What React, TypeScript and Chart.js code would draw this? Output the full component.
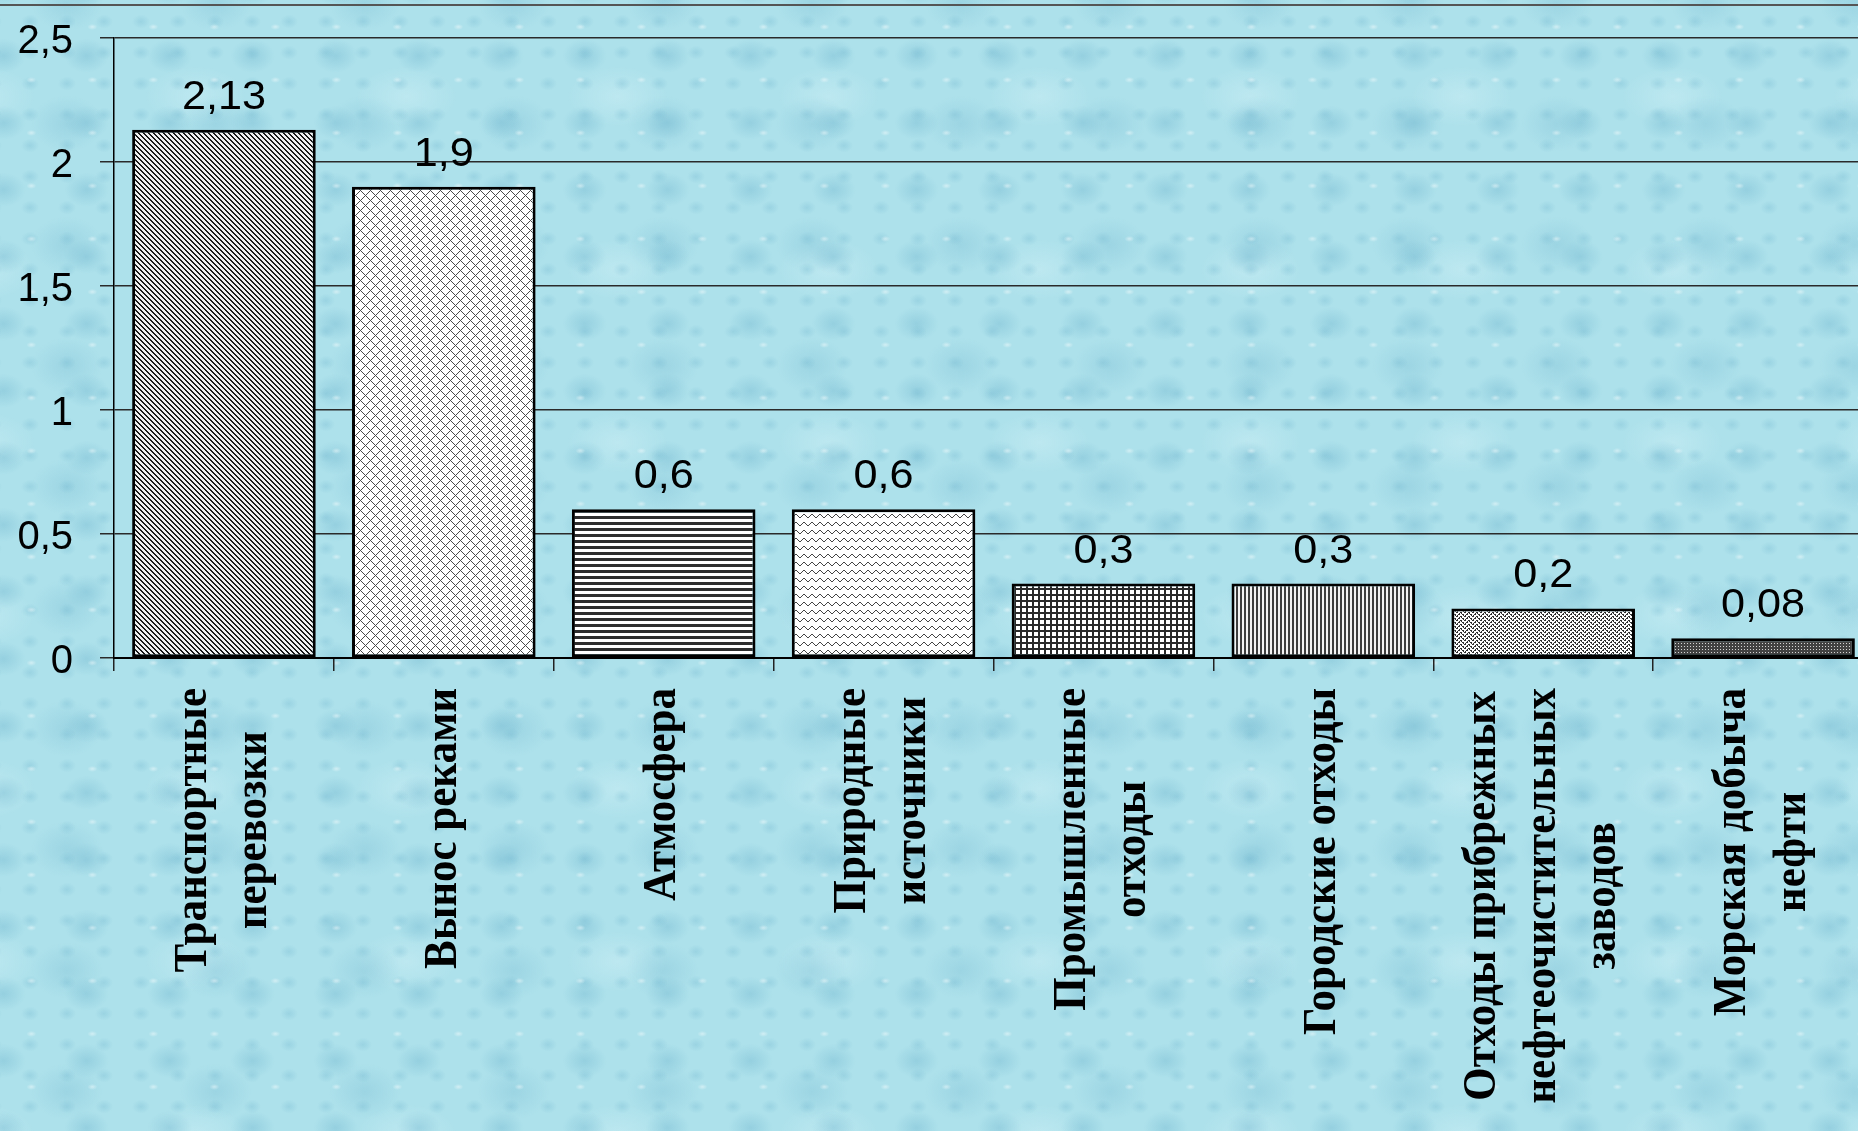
import React, { useEffect, useRef } from 'react';
import { Chart, registerables } from 'chart.js';

Chart.register(...registerables);

// ---- data ----
const categories: string[][] = [
  ['Транспортные', 'перевозки'],
  ['Вынос реками'],
  ['Атмосфера'],
  ['Природные', 'источники'],
  ['Промышленные', 'отходы'],
  ['Городские отходы'],
  ['Отходы прибрежных', 'нефтеочистительных', 'заводов'],
  ['Морская добыча', 'нефти'],
];
const values: number[] = [2.13, 1.9, 0.6, 0.6, 0.3, 0.3, 0.2, 0.08];
const valueLabels: string[] = ['2,13', '1,9', '0,6', '0,6', '0,3', '0,3', '0,2', '0,08'];
const yTicks: number[] = [0, 0.5, 1, 1.5, 2, 2.5];
const yTickLabels: string[] = ['0', '0,5', '1', '1,5', '2', '2,5'];
const patternKinds: string[] = ['diagDown', 'diamond', 'hstripe', 'wave', 'grid', 'vstripe', 'weave', 'dots'];

const SANS = '"Liberation Sans", Arial, sans-serif';
const SERIF = '"Liberation Serif", "Times New Roman", serif';

function hex(c: string): [number, number, number] {
  const v = parseInt(c.slice(1), 16);
  return [(v >> 16) & 255, (v >> 8) & 255, v & 255];
}

function pixTile(w: number, h: number, dark: string, light: string, isDark: (x: number, y: number) => boolean): HTMLCanvasElement {
  const c = document.createElement('canvas');
  c.width = w;
  c.height = h;
  const g = c.getContext('2d')!;
  const img = g.createImageData(w, h);
  const d = hex(dark);
  const l = hex(light);
  for (let y = 0; y < h; y++) {
    for (let x = 0; x < w; x++) {
      const col = isDark(x, y) ? d : l;
      const o = (y * w + x) * 4;
      img.data[o] = col[0];
      img.data[o + 1] = col[1];
      img.data[o + 2] = col[2];
      img.data[o + 3] = 255;
    }
  }
  g.putImageData(img, 0, 0);
  return c;
}

function makePattern(kind: string): CanvasPattern | string {
  let tile: HTMLCanvasElement;
  switch (kind) {
    case 'diagDown':
      tile = pixTile(5, 5, '#1a1a1a', '#f0f0f0', (x, y) => ((x - y + 50) % 5) < 2);
      break;
    case 'diamond':
      tile = pixTile(10, 10, '#4a4a4a', '#ffffff', (x, y) => (x + y) % 10 === 0 || ((x - y + 100) % 10) === 0);
      break;
    case 'hstripe':
      tile = pixTile(4, 6, '#2e2e2e', '#ffffff', (_x, y) => y < 3);
      break;
    case 'wave': {
      const amp = [5, 4, 3, 2, 2, 3, 4, 5];
      tile = pixTile(8, 8, '#444444', '#ffffff', (x, y) => y === amp[x]);
      break;
    }
    case 'grid':
      tile = pixTile(6, 6, '#2a2a2a', '#ffffff', (x, y) => x < 2 || y < 2);
      break;
    case 'vstripe':
      tile = pixTile(4, 4, '#3e3e3e', '#f4f4f4', (x) => x < 2);
      break;
    case 'weave':
      tile = pixTile(8, 8, '#303030', '#ffffff', (x, y) => {
        const k = x < 4 ? (x + y) % 4 : ((x - y + 64) % 4);
        return k === 0 || k === 1 && (y % 2 === 0);
      });
      break;
    case 'dots':
    default:
      tile = pixTile(3, 3, '#424242', '#d6d6d6', (x, y) => !(x === 1 && y === 1));
      break;
  }
  const g = document.createElement('canvas').getContext('2d')!;
  return g.createPattern(tile, 'repeat') || '#888';
}

const labelsPlugin = {
  id: 'customLabels',
  afterDatasetsDraw(chart: any) {
    const ctx: CanvasRenderingContext2D = chart.ctx;
    const meta = chart.getDatasetMeta(0);
    ctx.save();
    ctx.fillStyle = '#000';
    ctx.font = `40px ${SANS}`;
    ctx.textAlign = 'center';
    ctx.textBaseline = 'alphabetic';
    meta.data.forEach((el: any, i: number) => {
      ctx.save();
      ctx.translate(el.x, el.y - 21);
      ctx.scale(1.08, 1);
      ctx.fillText(valueLabels[i], 0, 0);
      ctx.restore();
    });
    ctx.restore();
  },
  afterDraw(chart: any) {
    const ctx: CanvasRenderingContext2D = chart.ctx;
    const xs = chart.scales.x;
    const ys = chart.scales.y;
    const zeroY = ys.getPixelForValue(0);
    const top = zeroY + 30;
    const L = 60;
    ctx.save();
    ctx.fillStyle = '#000';
    ctx.font = `bold 43px ${SERIF}`;
    ctx.textAlign = 'center';
    ctx.textBaseline = 'middle';
    categories.forEach((lines, i) => {
      const cx = xs.getPixelForValue(i);
      const maxW = Math.max(...lines.map((t) => ctx.measureText(t).width));
      const n = lines.length;
      lines.forEach((t, j) => {
        ctx.save();
        ctx.translate(cx + (j - (n - 1) / 2) * L, top + maxW / 2);
        ctx.rotate(-Math.PI / 2);
        ctx.scale(1, 1.06);
        ctx.fillText(t, 0, 0);
        ctx.restore();
      });
    });
    ctx.restore();
  },
};

export default function App() {
  const ref = useRef<HTMLCanvasElement | null>(null);

  useEffect(() => {
    const canvas = ref.current;
    if (!canvas) return;
    const patterns = patternKinds.map((k) => makePattern(k));
    const chart = new Chart(canvas, {
      type: 'bar',
      data: {
        labels: categories.map((l) => l.join(' ')),
        datasets: [
          {
            data: values,
            backgroundColor: patterns as any,
            borderColor: '#000',
            borderWidth: 3,
            borderSkipped: false,
            categoryPercentage: 0.835,
            barPercentage: 1,
          } as any,
        ],
      },
      options: {
        responsive: false,
        animation: false,
        devicePixelRatio: 1,
        layout: { padding: { top: 38, left: 0, right: 0, bottom: 0 } },
        plugins: {
          legend: { display: false },
          tooltip: { enabled: false },
          title: { display: false },
        },
        scales: {
          x: {
            offset: true,
            grid: {
              display: true,
              drawOnChartArea: false,
              drawTicks: true,
              tickLength: 13,
              color: '#222',
              lineWidth: 1.5,
              offset: true,
            },
            border: { display: true, color: '#000', width: 2 },
            ticks: { display: false },
            afterFit: (s: any) => { s.height = 473; },
          },
          y: {
            min: 0,
            max: 2.5,
            ticks: {
              stepSize: 0.5,
              padding: 27,
              color: '#000',
              labelOffset: 4,
              font: { family: SANS, size: 40 },
              callback: (v: any) => {
                const i = yTicks.findIndex((t) => Math.abs(t - Number(v)) < 1e-6);
                return i >= 0 ? yTickLabels[i] : '';
              },
            },
            grid: { color: '#2a2a2a', lineWidth: 1.5, tickLength: 14, drawTicks: true },
            border: { display: true, color: '#000', width: 1.5 },
            afterFit: (s: any) => {
              s.width = 114;
              s.paddingTop = 0;
              s.paddingBottom = 0;
            },
          },
        },
      } as any,
      plugins: [labelsPlugin],
    });
    return () => chart.destroy();
  }, []);

  const bg: React.CSSProperties = {
    position: 'fixed',
    left: 0,
    top: 0,
    width: '1858px',
    height: '1131px',
    overflow: 'hidden',
    backgroundColor: '#ade1eb',
    backgroundImage: [
      'radial-gradient(ellipse 5px 3px at 40% 30%, rgba(255,255,255,0.45), transparent 100%)',
      'radial-gradient(ellipse 9px 7px at 30% 60%, rgba(110,180,205,0.30), transparent 100%)',
      'radial-gradient(ellipse 22px 17px at 55% 40%, rgba(110,180,205,0.38), transparent 100%)',
      'radial-gradient(ellipse 36px 28px at 45% 55%, rgba(125,190,212,0.35), transparent 100%)',
      'radial-gradient(ellipse 50px 30px at 50% 50%, rgba(225,248,252,0.30), transparent 100%)',
    ].join(','),
    backgroundSize: '61px 53px, 37px 31px, 83px 67px, 149px 121px, 211px 173px',
    backgroundPosition: '7px 11px, 19px 3px, 41px 29px, 0 57px, 90px 10px',
  };

  return (
    <div style={bg}>
      <div style={{ position: 'absolute', left: 0, top: 4, width: '100%', height: 2, background: '#555' }} />
      <canvas ref={ref} width={1873} height={1131} style={{ display: 'block', width: '1873px', height: '1131px', position: 'absolute', left: 0, top: 0 }} />
    </div>
  );
}
